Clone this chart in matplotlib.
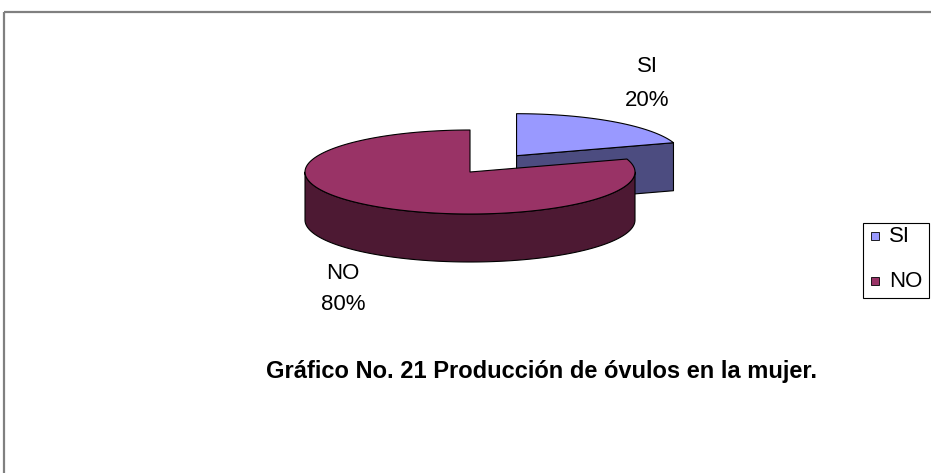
import numpy as np
import matplotlib
matplotlib.use("Agg")
import matplotlib.pyplot as plt
from matplotlib.patches import Polygon, Rectangle

plt.rcParams['font.family'] = ['Liberation Sans', 'DejaVu Sans']

# Data
categories = ["SI", "NO"]
percentages = [20, 80]
title_text = "Gráfico No. 21 Producción de óvulos en la mujer."

top_colors = ["#9999FF", "#993366"]
side_colors = ["#4C4C80", "#4D1933"]
explode = [0.48, 0.0]

W, H = 931, 473
fig = plt.figure(figsize=(W / 100, H / 100), dpi=100)
ax = fig.add_axes([0, 0, 1, 1])
ax.set_xlim(0, W)
ax.set_ylim(H, 0)
ax.axis("off")

# chart frame (extends past right/bottom edges)
ax.add_patch(Rectangle((4, 12), W + 20, H + 20, fill=False, edgecolor="#808080", lw=1.6))

# pie geometry in pixel space
cx, cy = 470.0, 172.0
rx, ry = 165.0, 42.0
depth = 48.0


def pt(c, ang_deg, dy=0.0):
    a = np.radians(ang_deg)
    return (c[0] + rx * np.cos(a), c[1] - ry * np.sin(a) + dy)


def arc(c, a0, a1, dy=0.0, n=200):
    angs = np.linspace(a0, a1, n)
    return [pt(c, a, dy) for a in angs]


total = float(sum(percentages))
start = 90.0
slices = []
for cat, val, ex, tc, sc in zip(categories, percentages, explode, top_colors, side_colors):
    sweep = 360.0 * val / total
    a_end = start
    a_start = start - sweep  # clockwise from 12 o'clock
    mid = np.radians((a_start + a_end) / 2)
    c = (cx + ex * rx * np.cos(mid), cy - ex * ry * np.sin(mid))
    slices.append(dict(cat=cat, a0=a_start, a1=a_end, c=c, tc=tc, sc=sc, mid=mid))
    start = a_start

edge_kw = dict(edgecolor="black", lw=0.8, joinstyle="round")

for s in slices:
    c, a0, a1 = s["c"], s["a0"], s["a1"]
    # radial faces facing the viewer
    for ang, sign in ((a0, -1), (a1, 1)):
        a = np.radians(ang)
        ny = sign * np.cos(a)
        if ny < 0:
            p = pt(c, ang)
            face = [c, p, (p[0], p[1] + depth), (c[0], c[1] + depth)]
            ax.add_patch(Polygon(face, closed=True, facecolor=s["sc"], **edge_kw))
    # outer curved side (front half only)
    segs = []
    for base in (-360.0, 0.0):
        f0, f1 = base + 180.0, base + 360.0
        l, h = max(a0, f0), min(a1, f1)
        if h > l:
            segs.append((l, h))
    for l, h in segs:
        top_arc = arc(c, l, h)
        bot_arc = arc(c, h, l, dy=depth)
        ax.add_patch(Polygon(top_arc + bot_arc, closed=True, facecolor=s["sc"], **edge_kw))
    # top surface
    top = [c] + arc(c, a0, a1)
    ax.add_patch(Polygon(top, closed=True, facecolor=s["tc"], **edge_kw))

# data labels
label_pos = {"SI": (647, 67, 100), "NO": (343, 273, 304)}
for cat, val in zip(categories, percentages):
    x, y1, y2 = label_pos[cat]
    ax.text(x, y1, cat, ha="center", va="center", fontsize=16)
    ax.text(x, y2, f"{val}%", ha="center", va="center", fontsize=16)

# title
ax.text(542, 371, title_text, ha="center", va="center", fontsize=17, fontweight="bold")

# legend
ax.add_patch(Rectangle((863, 223), 66, 75, fill=False, edgecolor="black", lw=0.8))
leg_y = [236, 281]
for cat, tc, y in zip(categories, top_colors, leg_y):
    ax.add_patch(Rectangle((871, y - 4), 8, 8, facecolor=tc, edgecolor="black", lw=0.6))
    ax.text(889, y, cat, ha="left", va="center", fontsize=16)

fig.savefig("out.png", dpi=100)
